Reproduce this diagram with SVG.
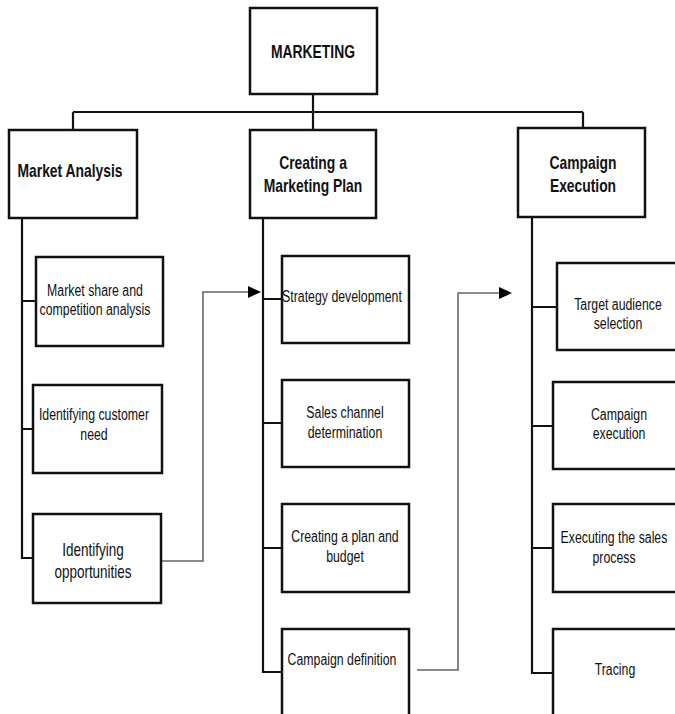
<svg xmlns="http://www.w3.org/2000/svg" width="675" height="714" viewBox="0 0 675 714">
<defs>
<style>
.box{fill:#fff;stroke:#111;stroke-width:2.5}
.ln{fill:none;stroke:#111;stroke-width:2.2}
.ar{fill:none;stroke:#666;stroke-width:1.6}
.h{font-family:"Liberation Sans",Arial,sans-serif;font-weight:bold;font-size:18px;fill:#111;text-anchor:middle}
.t{font-family:"Liberation Sans",Arial,sans-serif;font-size:16px;fill:#111;text-anchor:middle}
.tb{font-family:"Liberation Sans",Arial,sans-serif;font-size:17.5px;fill:#111;text-anchor:middle}
</style>
</defs>
<rect width="675" height="714" fill="#fff"/>
<g id="connectors">
<path class="ln" d="M313,94 V112 M73,112 H583 M73,112 V130 M313,112 V130 M583,112 V128"/>
<path class="ln" d="M22,218 V558 H33 M22,301 H36 M22,429 H33"/>
<path class="ln" d="M263,218 V672 H282 M263,299 H282 M263,423 H282 M263,548 H282"/>
<path class="ln" d="M532,217 V673 H553 M532,307 H557 M532,426 H553 M532,548 H553"/>
<path class="ar" d="M159,561 H203 V292 H250"/>
<path d="M248,286 L261,292 L248,298 z" fill="#000"/>
<path class="ar" d="M417,670 H458 V293 H500"/>
<path d="M499,287 L512,293 L499,299 z" fill="#000"/>
</g>
<g id="marketing"><rect class="box" x="250" y="8" width="127" height="86"/><g transform="matrix(0.77,0,0,1,71.99,0)"><text class="h" x="313" y="58">MARKETING</text></g></g>
<g id="market-analysis"><rect class="box" x="9" y="130" width="128" height="88"/><g transform="matrix(0.77,0,0,1,16.1,0)"><text class="h" x="70" y="177">Market Analysis</text></g></g>
<g id="marketing-plan"><rect class="box" x="250" y="130" width="126" height="88"/><g transform="matrix(0.77,0,0,1,71.99,0)"><text class="h" x="313" y="169">Creating a</text><text class="h" x="313" y="192">Marketing Plan</text></g></g>
<g id="campaign-execution-h"><rect class="box" x="518" y="128" width="127" height="89"/><g transform="matrix(0.77,0,0,1,134.09,0)"><text class="h" x="583" y="169">Campaign</text><text class="h" x="583" y="192">Execution</text></g></g>
<g id="market-share"><rect class="box" x="36" y="257" width="127" height="89"/><g transform="matrix(0.77,0,0,1,21.85,0)"><text class="t" x="95" y="296">Market share and</text><text class="t" x="95" y="315">competition analysis</text></g></g>
<g id="customer-need"><rect class="box" x="33" y="385" width="129" height="88"/><g transform="matrix(0.77,0,0,1,21.62,0)"><text class="t" x="94" y="420">Identifying customer</text><text class="t" x="94" y="440">need</text></g></g>
<g id="opportunities"><rect class="box" x="33" y="514" width="128" height="89"/><g transform="matrix(0.77,0,0,1,21.39,0)"><text class="tb" x="93" y="556">Identifying</text><text class="tb" x="93" y="578">opportunities</text></g></g>
<g id="strategy"><rect class="box" x="282" y="256" width="127" height="87"/><g transform="matrix(0.77,0,0,1,78.66,0)"><text class="t" x="342" y="302">Strategy development</text></g></g>
<g id="sales-channel"><rect class="box" x="282" y="380" width="127" height="87"/><g transform="matrix(0.77,0,0,1,79.35,0)"><text class="t" x="345" y="418">Sales channel</text><text class="t" x="345" y="438">determination</text></g></g>
<g id="plan-budget"><rect class="box" x="282" y="504" width="127" height="88"/><g transform="matrix(0.77,0,0,1,79.35,0)"><text class="t" x="345" y="542">Creating a plan and</text><text class="t" x="345" y="562">budget</text></g></g>
<g id="campaign-definition"><rect class="box" x="282" y="629" width="127" height="90"/><g transform="matrix(0.77,0,0,1,78.66,0)"><text class="t" x="342" y="665">Campaign definition</text></g></g>
<g id="target-audience"><rect class="box" x="557" y="263" width="125" height="87"/><g transform="matrix(0.77,0,0,1,142.14,0)"><text class="t" x="618" y="310">Target audience</text><text class="t" x="618" y="329">selection</text></g></g>
<g id="campaign-execution"><rect class="box" x="553" y="382" width="129" height="87"/><g transform="matrix(0.77,0,0,1,142.37,0)"><text class="t" x="619" y="420">Campaign</text><text class="t" x="619" y="439">execution</text></g></g>
<g id="sales-process"><rect class="box" x="553" y="504" width="129" height="88"/><g transform="matrix(0.77,0,0,1,141.22,0)"><text class="t" x="614" y="543">Executing the sales</text><text class="t" x="614" y="563">process</text></g></g>
<g id="tracing"><rect class="box" x="553" y="629" width="129" height="90"/><g transform="matrix(0.77,0,0,1,141.45,0)"><text class="t" x="615" y="675">Tracing</text></g></g>
</svg>
